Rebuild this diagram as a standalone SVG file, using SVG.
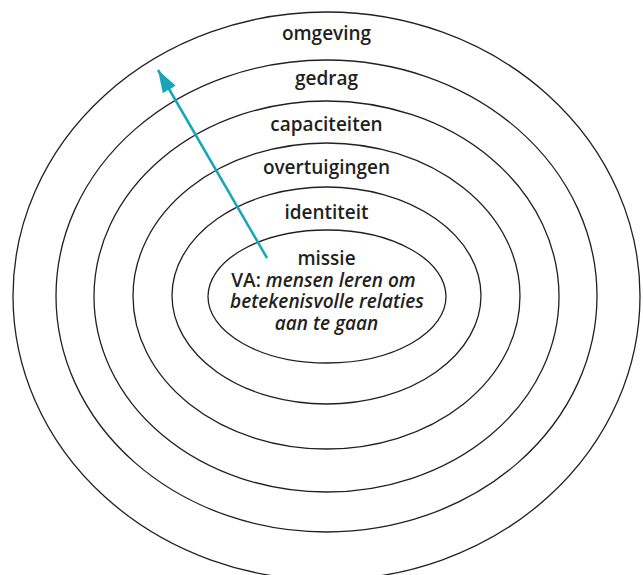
<svg xmlns="http://www.w3.org/2000/svg" width="643" height="575" viewBox="0 0 643 575">
<defs>
<style>
.ring{fill:none;stroke:#231f20;stroke-width:1.3}
.lbl{font-family:"Open Sans","Liberation Sans",sans-serif;font-size:19px;font-weight:600;fill:#231f20;text-anchor:middle}
.it{font-style:italic}
</style>
<marker id="ah" markerWidth="9" markerHeight="6" refX="9" refY="3" orient="auto" markerUnits="strokeWidth">
<path d="M0,0 L9,3 L0,6 Z" fill="#17a6b8"/>
</marker>
</defs>
<rect width="643" height="575" fill="#fff"/>
<g id="omgeving">
<ellipse class="ring" cx="326.5" cy="296" rx="313.5" ry="284"/>
<text class="lbl" x="326.5" y="40">omgeving</text>
</g>
<g id="gedrag">
<ellipse class="ring" cx="326.5" cy="296" rx="270.5" ry="236"/>
<text class="lbl" x="326.5" y="85">gedrag</text>
</g>
<g id="capaciteiten">
<ellipse class="ring" cx="326.5" cy="296.5" rx="232.5" ry="195.5"/>
<text class="lbl" x="326.5" y="131">capaciteiten</text>
</g>
<g id="overtuigingen">
<ellipse class="ring" cx="326.5" cy="296" rx="193.5" ry="153"/>
<text class="lbl" x="326.5" y="174">overtuigingen</text>
</g>
<g id="identiteit">
<ellipse class="ring" cx="326.5" cy="295.5" rx="154.5" ry="108.5"/>
<text class="lbl" x="326.5" y="218.5">identiteit</text>
</g>
<g id="missie">
<ellipse class="ring" cx="327" cy="296.5" rx="119" ry="66.5"/>
<text class="lbl" x="326.5" y="265">missie</text>
<text class="lbl" x="323.5" y="286.5">VA: <tspan class="it">mensen leren om</tspan></text>
<text class="lbl it" x="327" y="308">betekenisvolle relaties</text>
<text class="lbl it" x="326.5" y="329.5">aan te gaan</text>
</g>
<g id="connectors">
<line x1="267" y1="258" x2="158" y2="70" stroke="#17a6b8" stroke-width="2.5" marker-end="url(#ah)"/>
</g>
</svg>
